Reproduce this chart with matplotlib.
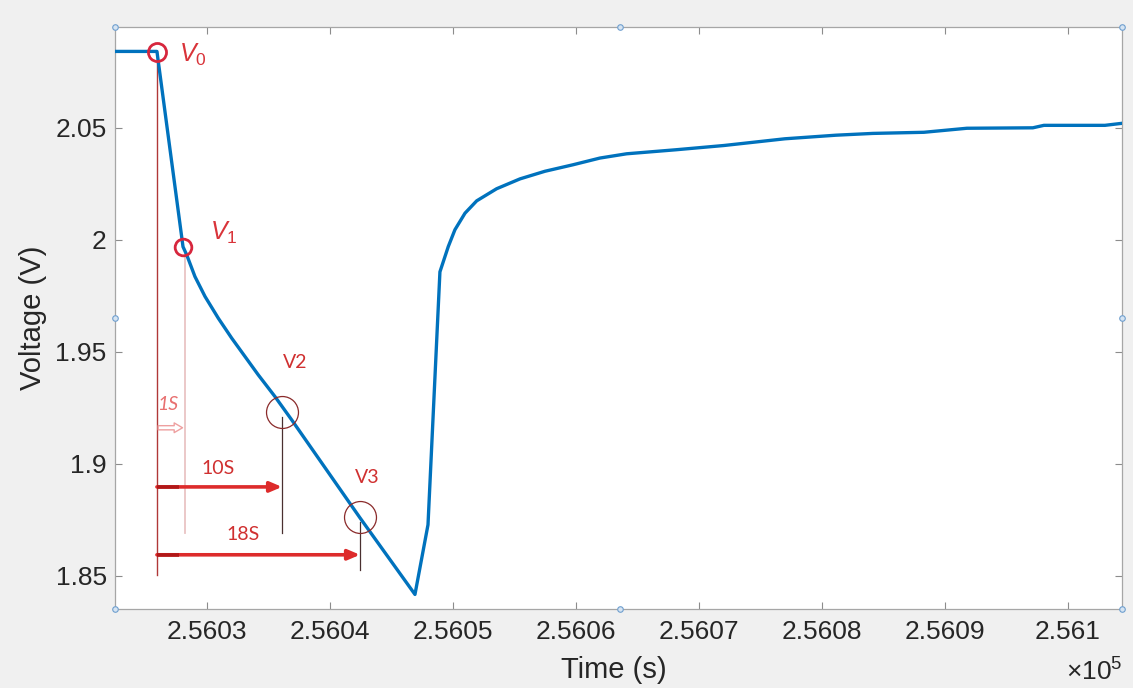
import matplotlib
matplotlib.use("Agg")
import matplotlib.pyplot as plt

# ---------------- data ----------------
time_s = [256022.52, 256025.93, 256028.05, 256028.35, 256029.02, 256029.84,
          256030.92, 256032.01, 256033.09, 256034.17, 256035.53, 256036.89,
          256042.44, 256046.91, 256047.97, 256048.94, 256049.62, 256050.16,
          256050.98, 256051.93, 256053.55, 256055.45, 256057.48, 256059.76,
          256061.95, 256064.12, 256068.13, 256072.03, 256076.99, 256081.14,
          256084.15, 256088.29, 256091.79, 256097.15, 256098.05, 256103.01,
          256104.39]
voltage = [2.0841, 2.0841, 1.9969, 1.9933, 1.9836, 1.9747,
           1.9650, 1.9561, 1.9479, 1.9397, 1.9300, 1.9196,
           1.8759, 1.8417, 1.8728, 1.9857, 1.9970, 2.0045,
           2.0119, 2.0174, 2.0228, 2.0272, 2.0306, 2.0335,
           2.0365, 2.0384, 2.0402, 2.0421, 2.0451, 2.0467,
           2.0475, 2.0480, 2.0498, 2.0500, 2.0511, 2.0511,
           2.0520]

xticks = [256030, 256040, 256050, 256060, 256070, 256080, 256090, 256100]
xtick_labels = ["2.5603", "2.5604", "2.5605", "2.5606", "2.5607", "2.5608", "2.5609", "2.561"]
yticks = [1.85, 1.90, 1.95, 2.00, 2.05]
ytick_labels = ["1.85", "1.9", "1.95", "2", "2.05"]

# annotation points
t_v0, v_v0 = 256025.93, 2.0840
t_v1, v_v1 = 256028.05, 1.9969
t_v2, v_v2 = 256036.10, 1.9232
t_v3, v_v3 = 256042.44, 1.8763
t_1s = 256028.21

# ---------------- figure ----------------
plt.rcParams['font.family'] = ['Liberation Sans', 'DejaVu Sans']
plt.rcParams['mathtext.fontset'] = 'custom'
plt.rcParams['mathtext.it'] = 'Liberation Sans:italic'
plt.rcParams['mathtext.rm'] = 'Liberation Sans'
fig = plt.figure(figsize=(11.33, 6.88), dpi=100, facecolor='#f0f0f0')
ax = fig.add_axes([115/1133, 1-609/688, (1122-115)/1133, (609-27)/688])
ax.set_facecolor('white')

ax.plot(time_s, voltage, color='#0072BD', lw=2.4, solid_joinstyle='round', zorder=5)

ax.set_xlim(256022.52, 256104.4)
ax.set_ylim(1.8352, 2.0950)
ax.set_xticks(xticks)
ax.set_xticklabels(xtick_labels)
ax.set_yticks(yticks)
ax.set_yticklabels(ytick_labels)

for s in ax.spines.values():
    s.set_color('#a6a6a6')
    s.set_linewidth(0.9)
ax.tick_params(direction='in', length=5, width=0.8, color='#8c8c8c',
               labelsize=19, labelcolor='#262626', top=True, right=True, pad=8)
ax.tick_params(axis='y', pad=6)

ax.set_ylabel('Voltage (V)', fontsize=21, color='#262626')
ax.yaxis.set_label_coords(-0.0675, 0.5)
ax.set_xlabel('Time (s)', fontsize=21, color='#262626', va='center')
ax.xaxis.set_label_coords(0.4955, -0.105)
fig.text(0.9905, 0.004, r'$\times$10$^5$', fontsize=19, color='#262626',
         ha='right', va='bottom')

# ---------------- annotations ----------------
red = '#d7263d'
dark = '#8a2a2a'
ax.plot([t_v0, t_v0], [v_v0, 1.8504], color='#b03838', lw=1.0, zorder=3)
ax.plot([t_1s, t_1s], [1.9955, 1.8692], color='#e9c4c4', lw=1.3, zorder=3)
ax.plot([t_v2, t_v2], [1.9210, 1.8692], color='#4a3030', lw=0.9, zorder=3)
ax.plot([t_v3, t_v3], [1.8741, 1.8527], color='#4a3030', lw=0.9, zorder=3)

ax.plot([t_v0], [v_v0], 'o', ms=13, mfc='none', mec=red, mew=2.0, zorder=6)
ax.plot([t_v1], [v_v1], 'o', ms=12, mfc='none', mec=red, mew=2.0, zorder=6)
ax.plot([t_v2], [v_v2], 'o', ms=23, mfc='none', mec=dark, mew=0.9, zorder=6)
ax.plot([t_v3], [v_v3], 'o', ms=23, mfc='none', mec=dark, mew=0.9, zorder=6)

for y_arr, t_end in [(1.8897, t_v2), (1.8594, t_v3)]:
    ax.annotate('', xy=(t_end, y_arr), xytext=(t_v0, y_arr),
                arrowprops=dict(arrowstyle='-|>,head_length=0.7,head_width=0.3',
                                color='#dd2b2b', lw=2.6, shrinkA=0, shrinkB=0),
                zorder=4)
    ax.plot([t_v0, t_v0 + 1.8], [y_arr, y_arr], color='#b01818', lw=2.6,
            solid_capstyle='butt', zorder=4)

ax.annotate('', xy=(t_1s - 0.2, 1.9161), xytext=(t_v0 + 0.1, 1.9161),
            arrowprops=dict(arrowstyle='simple,head_length=0.6,head_width=0.7,tail_width=0.3',
                            fc='white', ec='#eea0a0', lw=1.0, shrinkA=0, shrinkB=0),
            zorder=4)

ann_font = ['Lato', 'DejaVu Sans']
ax.text(256027.72, 2.0826, r'$\mathit{V}_{\mathit{0}}$', fontsize=18, color='#d9343a',
        ha='left', va='center')
ax.text(256030.24, 2.0031, r'$\mathit{V}_{\mathit{1}}$', fontsize=18, color='#d9343a',
        ha='left', va='center')
ax.text(256037.15, 1.9451, 'V2', fontsize=14, color='#d03030', ha='center',
        va='center', family=ann_font)
ax.text(256043.0, 1.8938, 'V3', fontsize=14, color='#d03030', ha='center',
        va='center', family=ann_font)
ax.text(256030.89, 1.8978, '10S', fontsize=14, color='#d03030', ha='center',
        va='center', family=ann_font)
ax.text(256032.93, 1.8683, '18S', fontsize=14, color='#d03030', ha='center',
        va='center', family=ann_font)
ax.text(256026.83, 1.9263, '1S', fontsize=14, color='#e87070', ha='center',
        va='center', style='italic', family=ann_font)

# figure edit handles (MATLAB selection markers)
for hx in (0, 0.5015, 1):
    for hy in (0, 0.5, 1):
        if hx == 0.5015 and hy == 0.5:
            continue
        ax.plot([hx], [hy], 'o', ms=4, mfc='#d6e4f2', mec='#6f9fcf', mew=0.8,
                transform=ax.transAxes, clip_on=False, zorder=10)

fig.savefig('out.png', dpi=100, facecolor=fig.get_facecolor())
